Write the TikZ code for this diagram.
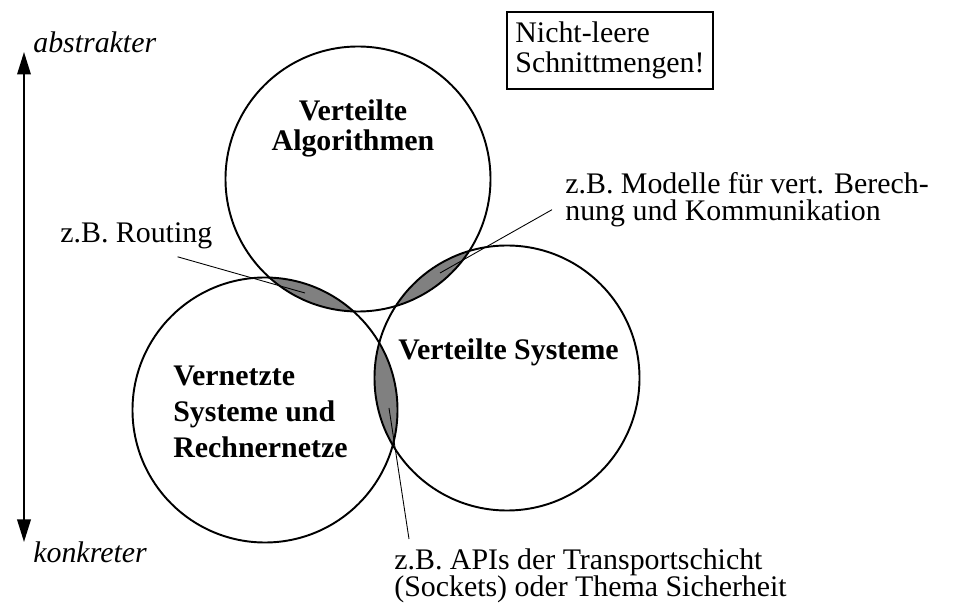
\documentclass[tikz,border=0pt]{standalone}
\usepackage{fontspec}
\setmainfont{Liberation Serif}
\usetikzlibrary{arrows.meta, positioning, calc}
\definecolor{lensgray}{RGB}{128,128,128}
\definecolor{lensblur}{RGB}{175,175,175}
\tikzset{
  area/.style={circle, draw=black, line width=1.1pt, minimum size=5.3cm, inner sep=0pt},
  areatitle/.style={font=\fontsize{17}{17}\selectfont\bfseries, inner sep=0pt},
  note/.style={font=\fontsize{17}{15.5}\selectfont, align=left, inner sep=0pt},
  hint/.style={font=\fontsize{17}{17}\selectfont\itshape, inner sep=0pt},
  leader/.style={line width=0.5pt, color=black},
  axis/.style={{Triangle[width=0.27cm,length=0.45cm]}-{Triangle[width=0.27cm,length=0.45cm]}, line width=1.1pt}
}

\begin{document}
\begin{tikzpicture}
  \useasboundingbox (0,0) rectangle (19.1,12.06);
  % Mittelpunkte der Kreise
  \coordinate (algoc) at (7.16,8.48);
  \coordinate (netzc) at (5.30,3.86);
  \coordinate (vsysc) at (10.14,4.50);
  % Schnittmengen (leicht verwischter Rand)
  \begin{scope}[shift={(0.03,-0.04)}]
    \clip (algoc) circle (2.65);
    \fill[lensblur] (netzc) circle (2.65);
    \fill[lensblur] (vsysc) circle (2.65);
  \end{scope}
  \begin{scope}[shift={(-0.03,-0.03)}]
    \clip (netzc) circle (2.65);
    \fill[lensblur] (vsysc) circle (2.65);
  \end{scope}
  \begin{scope}
    \clip (algoc) circle (2.65);
    \fill[lensgray] (netzc) circle (2.65);
    \fill[lensgray] (vsysc) circle (2.65);
  \end{scope}
  \begin{scope}
    \clip (netzc) circle (2.65);
    \fill[lensgray] (vsysc) circle (2.65);
  \end{scope}
  % Kreise
  \node[area] (algo) at (algoc) {};
  \node[area] (netz) at (netzc) {};
  \node[area] (vsys) at (vsysc) {};
  % Titel
  \node[areatitle, align=center] (algotitle) at (7.06,9.5) {Verteilte\\Algorithmen};
  \node[areatitle, align=left, font=\fontsize{17}{20.5}\selectfont\bfseries, anchor=west] (netztitle) at (3.46,3.82)
    {Vernetzte\\Systeme und\\Rechnernetze};
  \node[areatitle, anchor=base west] (vsystitle) at (7.96,4.86) {Verteilte Systeme};
  % Achse
  \coordinate (top) at (0.48,11.02);
  \coordinate (bottom) at (0.48,1.22);
  \draw[axis] (bottom) -- (top);
  \node[hint, anchor=base west] (abstr) at (0.66,11.0) {abstrakter};
  \node[hint, anchor=base west] (konkr) at (0.66,0.8) {konkreter};
  % Kasten
  \node[draw, line width=0.8pt, note, font=\fontsize{17}{17}\selectfont, minimum width=4.12cm, minimum height=1.54cm,
    inner xsep=3.7pt] (hinweis) at (12.2,11.05) {Nicht-leere\\Schnittmengen!};
  % Beispiele
  \node[note, anchor=base west] (routing) at (1.2,7.2) {z.B. Routing};
  \node[note, anchor=north west] (modelle) at (11.3,8.62)
    {z.B. Modelle f\"ur vert. Berech-\\nung und Kommunikation};
  \node[note, anchor=north west] (apis) at (7.88,1.1)
    {z.B. APIs der Transportschicht\\(Sockets) oder Thema Sicherheit};
  % Hinweislinien
  \coordinate (lensab) at (6.10,6.20);
  \coordinate (lensac) at (8.80,6.60);
  \coordinate (lensbc) at (7.78,3.90);
  \draw[leader] ([xshift=-0.7cm,yshift=-0.14cm]routing.south east) -- (lensab);
  \draw[leader] ([xshift=-0.26cm,yshift=-0.2cm]modelle.west) -- (lensac);
  \draw[leader] ([xshift=0.3cm,yshift=0.18cm]apis.north west) -- (lensbc);
\end{tikzpicture}
\end{document}
